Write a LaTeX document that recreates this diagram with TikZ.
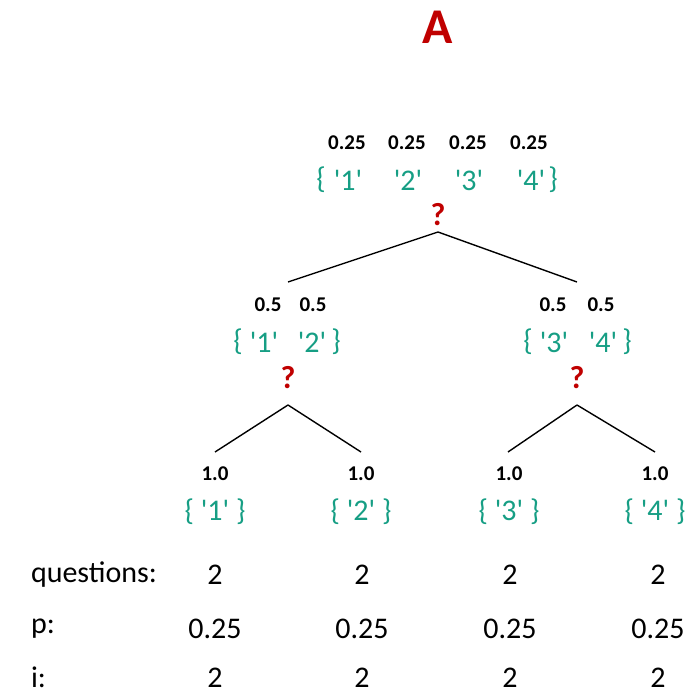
\documentclass[tikz,border=0pt]{standalone}
\usepackage{fontspec}
\setmainfont{Carlito}[Ligatures=TeXOff]
\definecolor{teal1}{RGB}{22,158,132}
\definecolor{qred}{RGB}{192,0,0}
\begin{document}
\begin{tikzpicture}[x=1pt,y=-1pt,
  every node/.style={inner sep=0pt,outer sep=0pt,anchor=center},
  prob/.style={font=\fontsize{21}{21}\selectfont\bfseries},
  setx/.style={font=\fontsize{30}{30}\selectfont,text=teal1},
  qm/.style={font=\fontsize{32}{32}\selectfont\bfseries,text=qred},
  tbl/.style={font=\fontsize{30}{30}\selectfont},
  edge/.style={draw=black,line width=1.4pt}]
\useasboundingbox (0,0) rectangle (699,698);
\node[font=\fontsize{50}{50}\selectfont\bfseries,text=qred] (A) at (438,27) {A};
% level 1
\node[prob] (p11) at (347,143) {0.25};
\node[prob] (p12) at (407,143) {0.25};
\node[prob] (p13) at (468,143) {0.25};
\node[prob] (p14) at (529,143) {0.25};
\node[setx] (b1l) at (321,180) {\{};
\node[setx] (s11) at (348,180) {'1'};
\node[setx] (s12) at (408,180) {'2'};
\node[setx] (s13) at (469,180) {'3'};
\node[setx] (s14) at (531,180) {'4'};
\node[setx] (b1r) at (553,180) {\}};
\node[qm] (q1) at (438,215) {?};
\coordinate (c1) at (438,232);
\coordinate (e2a) at (288,282);
\coordinate (e2b) at (577,282);
% level 2 left
\node[prob] (p21) at (268,305) {0.5};
\node[prob] (p22) at (313,305) {0.5};
\node[setx] (b2l) at (238,342) {\{};
\node[setx] (s21) at (264,342) {'1'};
\node[setx] (s22) at (312,342) {'2'};
\node[setx] (b2r) at (336,342) {\}};
\node[qm] (q2) at (288,378) {?};
\coordinate (c2) at (288,405);
% level 2 right
\node[prob] (p23) at (553,305) {0.5};
\node[prob] (p24) at (601,305) {0.5};
\node[setx] (b3l) at (528,342) {\{};
\node[setx] (s23) at (554,342) {'3'};
\node[setx] (s24) at (603,342) {'4'};
\node[setx] (b3r) at (627,342) {\}};
\node[qm] (q3) at (577,378) {?};
\coordinate (c3) at (577,405);
% level 3 ends
\coordinate (e31) at (215,452);
\coordinate (e32) at (361,452);
\coordinate (e33) at (508,452);
\coordinate (e34) at (655,452);
\node[prob] (p31) at (215,474) {1.0};
\node[prob] (p32) at (361,474) {1.0};
\node[prob] (p33) at (509,474) {1.0};
\node[prob] (p34) at (655,474) {1.0};
\node[setx] (s31) at (215,512) {\{ '1' \}};
\node[setx] (s32) at (361,512) {\{ '2' \}};
\node[setx] (s33) at (509,512) {\{ '3' \}};
\node[setx] (s34) at (655,512) {\{ '4' \}};
% edges
\draw[edge] (c1) -- (e2a);
\draw[edge] (c1) -- (e2b);
\draw[edge] (c2) -- (e31);
\draw[edge] (c2) -- (e32);
\draw[edge] (c3) -- (e33);
\draw[edge] (c3) -- (e34);
% table
\node[tbl,anchor=west] (lq) at (31,575) {questions:};
\node[tbl,anchor=west] (lp) at (31,629) {p:};
\node[tbl,anchor=base west] (li) at (31,687) {i:};
\foreach \x [count=\k] in {215,362,510,658} {
  \node[tbl] (vq\k) at (\x,575) {2};
  \node[tbl] (vp\k) at (\x,629) {0.25};
  \node[tbl,anchor=base] (vi\k) at (\x,687) {2};
}
\end{tikzpicture}
\end{document}
